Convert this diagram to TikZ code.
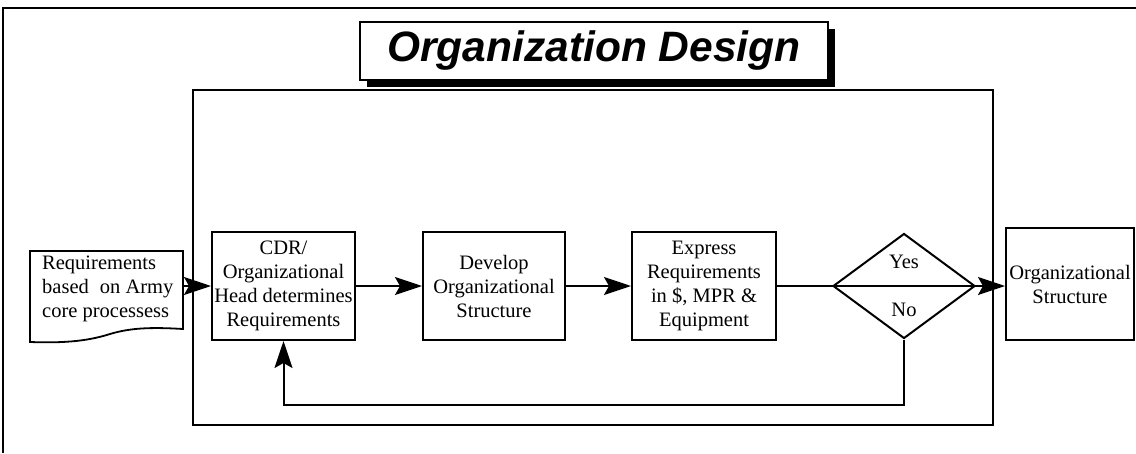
\documentclass[tikz,border=0pt]{standalone}
\usepackage{fontspec}
\setmainfont{Liberation Serif}
\newfontfamily\titlefont{Liberation Sans}
\usetikzlibrary{shapes.geometric,arrows.meta}
\tikzset{
  procbox/.style={draw, line width=2pt, inner sep=0pt, align=center,
    font=\fontsize{20.5}{24}\selectfont},
  conn/.style={line width=2pt},
  arr/.style={line width=2pt, -{Stealth[length=27pt,width=18pt,inset=5pt]}},
  lbl/.style={inner sep=0pt, font=\fontsize{20.5}{24}\selectfont}
}
\begin{document}
\begin{tikzpicture}[x=1pt,y=-1pt]
\useasboundingbox (0,0) rectangle (1136,453);
% outer frame (top and left visible)
\draw[line width=2pt] (3,453) -- (3,8) -- (1136,8);
% title with shadow
\fill[black] (367,29) rectangle (835,87);
\node[draw, fill=white, line width=1.6pt, minimum width=468pt, minimum height=58pt, inner sep=0pt,
  font=\titlefont\bfseries\itshape\fontsize{42.5}{46}\selectfont] (title) at (594,51) {Organization Design};
% inner frame
\draw[line width=2pt] (193,90) rectangle (993,425);
% document shape
\draw[line width=1.8pt] (30,251) -- (183,251) -- (183,329)
  .. controls (150,327) and (130,328) .. (110,334)
  .. controls (85,342) and (60,343) .. (30,342) -- cycle;
\node[lbl, align=left, anchor=west] (doc) at (42,289) {Requirements\\based\hspace{6pt} on Army\\core processess};
\coordinate (docE) at (183,286);
% process boxes
\node[procbox, minimum width=143pt, minimum height=108pt] (cdr) at (283.5,286)
  {CDR/\\Organizational\\Head determines\\Requirements};
\node[procbox, minimum width=142pt, minimum height=108pt] (dev) at (494,286)
  {Develop\\Organizational\\Structure};
\node[procbox, minimum width=144pt, minimum height=108pt] (exp) at (704,286)
  {Express\\Requirements\\in \$, MPR \&\\Equipment};
\node[draw, diamond, line width=2pt, minimum width=142pt, minimum height=105pt, inner sep=0pt] (dec) at (904,286) {};
\node[lbl] (yes) at (904,262) {Yes};
\node[lbl] (no) at (904,310) {No};
\node[procbox, minimum width=128pt, minimum height=112pt] (org) at (1070,284)
  {Organizational\\Structure};
% connectors
\draw[arr] (docE) -- (cdr.west |- docE);
\draw[arr] (cdr.east) -- (dev.west);
\draw[arr] (dev.east) -- (exp.west);
\draw[conn] (exp.east) -- (dec.west);
\draw[conn] (dec.west) -- (dec.east);
\draw[arr] (dec.east) -- (org.west |- dec.east);
\coordinate (fb) at (904,405);
\draw[arr] (dec.south) -- (fb) -- (cdr.south |- fb) -- (cdr.south);
\end{tikzpicture}
\end{document}
